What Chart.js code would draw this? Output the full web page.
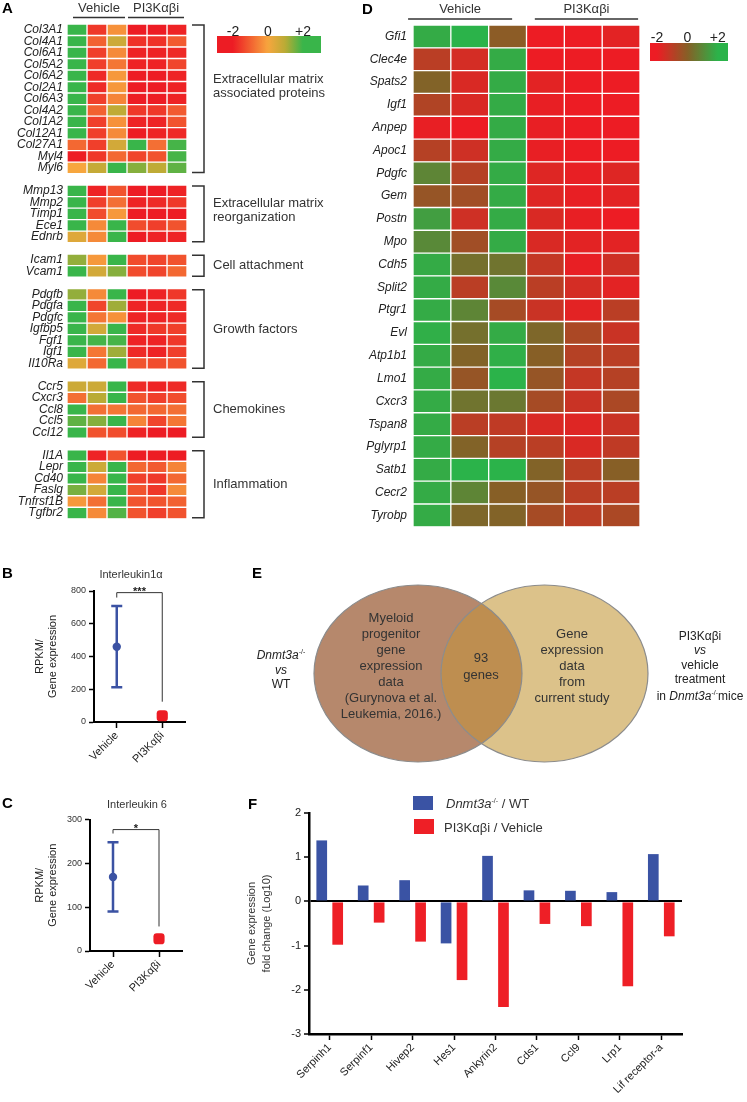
<!DOCTYPE html>
<html lang="en">
<head>
<meta charset="UTF-8">
<title>PI3Kαβi gene expression figure</title>
<script src="https://cdn.jsdelivr.net/npm/chart.js"></script>
<style>
body {margin:0; background:#fff; font-family:'Liberation Sans', Arial, Helvetica, sans-serif; color:#222;}
#page {position:relative; width:747px; height:1102px; overflow:hidden;}
.box {position:absolute;}
.t {position:absolute; white-space:nowrap; line-height:1;}
.c {transform:translateX(-50%); text-align:center;}
.letter {font-weight:bold; font-size:15px; color:#000;}
.blk {position:absolute; white-space:nowrap; text-align:center; transform:translateX(-50%);}
sup {font-size:7px; vertical-align:5px;}
.sw {position:absolute; width:20px; height:15px;}
</style>
</head>
<body>
<div id="page">
  <div class="box" style="left:0;top:0;width:380px;height:530px"><canvas id="heatA"></canvas></div>
  <div class="box" style="left:340px;top:0;width:407px;height:540px"><canvas id="heatD"></canvas></div>
  <div class="box" style="left:0;top:560px;width:220px;height:220px"><canvas id="dotB"></canvas></div>
  <div class="box" style="left:0;top:790px;width:220px;height:220px"><canvas id="dotC"></canvas></div>
  <div class="box" style="left:220px;top:560px;width:527px;height:220px"><canvas id="vennE"></canvas></div>
  <div class="box" style="left:220px;top:780px;width:527px;height:322px"><canvas id="barF"></canvas></div>

  <div class="t letter" style="left:2px;top:0">A</div>
  <div class="t letter" style="left:362px;top:1px">D</div>
  <div class="t letter" style="left:2px;top:565px">B</div>
  <div class="t letter" style="left:2px;top:795px">C</div>
  <div class="t letter" style="left:252px;top:565px">E</div>
  <div class="t letter" style="left:248px;top:796px">F</div>

  <div class="t c" style="left:131px;top:569px;font-size:11px;color:#333">Interleukin1α</div>
  <div class="t c" style="left:137px;top:799px;font-size:11px;color:#333">Interleukin 6</div>

  <div class="blk" style="left:391px;top:610px;font-size:13px;line-height:16px;color:#333">Myeloid<br>progenitor<br>gene<br>expression<br>data<br>(Gurynova et al.<br>Leukemia, 2016.)</div>
  <div class="blk" style="left:481px;top:649px;font-size:13px;line-height:17px;color:#333">93<br>genes</div>
  <div class="blk" style="left:572px;top:626px;font-size:13px;line-height:16px;color:#333">Gene<br>expression<br>data<br>from<br>current study</div>
  <div class="blk" style="left:281px;top:645px;font-size:12px;line-height:14.5px;color:#222"><i>Dnmt3a</i><sup>-/-</sup><br><i>vs</i><br>WT</div>
  <div class="blk" style="left:700px;top:629px;font-size:12px;line-height:14.3px;color:#222">PI3Kαβi<br><i>vs</i><br>vehicle<br>treatment<br>in <i>Dnmt3a</i><sup>-/-</sup>mice</div>

  <div class="sw" style="left:413px;top:796px;height:14px;background:#3a53a4"></div>
  <div class="t" style="left:446px;top:797px;font-size:13px;color:#333"><i>Dnmt3a</i><sup>-/-</sup> / WT</div>
  <div class="sw" style="left:414px;top:819px;background:#ee1f26"></div>
  <div class="t" style="left:444px;top:821px;font-size:13px;color:#333">PI3Kαβi / Vehicle</div>
</div>
<script>
const FONT = "'Liberation Sans', Arial, Helvetica, sans-serif";
Chart.defaults.font.family = FONT;
Chart.defaults.color = '#222';
Chart.defaults.animation = false;

// ---------- data ----------
const conditions = ['Vehicle', 'PI3Kαβi'];
const columns = ['Vehicle 1', 'Vehicle 2', 'Vehicle 3', 'PI3Kαβi 1', 'PI3Kαβi 2', 'PI3Kαβi 3'];

// panel A, z-scores per gene, grouped
const groupNamesA = [
  ['Extracellular matrix', 'associated proteins'],
  ['Extracellular matrix', 'reorganization'],
  ['Cell attachment'],
  ['Growth factors'],
  ['Chemokines'],
  ['Inflammation']
];
const genesA = [
  ['Col3A1','Col4A1','Col6A1','Col5A2','Col6A2','Col2A1','Col6A3','Col4A2','Col1A2','Col12A1','Col27A1','Myl4','Myl6'],
  ['Mmp13','Mmp2','Timp1','Ece1','Ednrb'],
  ['Icam1','Vcam1'],
  ['Pdgfb','Pdgfa','Pdgfc','Igfbp5','Fgf1','Igf1','Il10Ra'],
  ['Ccr5','Cxcr3','Ccl8','Ccl5','Ccl12'],
  ['Il1A','Lepr','Cd40','Faslg','Tnfrsf1B','Tgfbr2']
];
const valuesA = [
  [[2,-1.6,-0.3,-2,-2,-1.9],[2,-1.0,0.7,-1.7,-1.7,-1.1],[2,-1.5,-0.4,-1.9,-1.9,-1.8],[2,-1.5,-0.7,-1.9,-1.9,-1.4],
   [2,-1.8,-0.2,-2,-2,-1.9],[2,-1.8,-0.2,-2,-2,-1.9],[2,-1.5,-0.5,-2,-2,-1.9],[2,-1.0,0.9,-1.6,-1.6,-1.1],
   [2,-1.5,-0.3,-1.9,-1.9,-1.2],[2,-1.5,-0.4,-2,-1.9,-1.8],[-0.9,-1.5,0.6,2,-0.8,1.9],[-2,-1.6,-0.9,-1.4,-1.2,1.9],
   [0,0.8,2,1.4,0.9,1.7]],
  [[2,-1.9,-1.2,-2,-2,-1.9],[2,-1.5,-0.8,-1.9,-1.8,-1.6],[2,-1.3,-0.2,-2,-2,-2],[2,-0.4,2,-1.3,-1.5,-1.2],[0.4,-0.4,2,-2,-1.9,-1.9]],
  [[1.3,-0.2,2,-1.3,-1.4,-1.2],[2,0.6,1.4,-1.3,-1.4,-0.9]],
  [[1.3,-0.4,2,-2,-1.9,-1.6],[2,-1.4,1.2,-1.9,-1.9,-1.8],[2,-0.7,-0.3,-1.9,-1.9,-1.8],[2,0.6,2,-1.8,-1.6,-1.5],
   [2,1.9,1.9,-1.9,-1.9,-1.6],[2,-0.7,1.2,-1.8,-1.9,-1.5],[0.4,-0.9,2,-1.2,-1.3,-1.2]],
  [[0.7,0.7,2,-1.8,-1.9,-1.8],[-0.8,1.0,2,-1.2,-1.5,-1.3],[2,-0.8,-0.7,-0.9,-0.9,-0.8],[1.7,1.4,2,-0.5,-1.4,-0.7],[2,-1.2,-1.3,-1.9,-2,-2]],
  [[2,-1.9,-1.2,-2,-2,-2],[2,0.7,2,-0.9,-1.1,-0.5],[2,-0.5,2,-1.5,-1.6,-0.9],[1.5,0.6,2,-1.2,-1.6,-0.4],[-0.2,-0.8,2,-1.2,-1.2,-1.0],[2,-0.4,1.8,-1.2,-1.5,-1.2]]
];

// panel D
const genesD = ['Gfi1','Clec4e','Spats2','Igf1','Anpep','Apoc1','Pdgfc','Gem','Postn','Mpo','Cdh5','Split2',
  'Ptgr1','Evl','Atp1b1','Lmo1','Cxcr3','Tspan8','Pglyrp1','Satb1','Cecr2','Tyrobp'];
const valuesD = [
  [1.8,2,-0.1,-2,-2,-1.8],[-1.0,-1.5,1.8,-2,-2,-2],[0.1,-1.6,1.8,-1.8,-2,-2],[-0.8,-1.6,1.8,-1.9,-2,-2],
  [-1.9,-2,1.8,-1.9,-2,-2],[-0.9,-1.4,1.8,-1.9,-2,-2],[0.9,-0.9,1.8,-1.7,-1.9,-1.7],[-0.3,-0.5,1.8,-1.7,-1.9,-1.8],
  [1.5,-1.4,1.8,-1.6,-1.9,-2],[1.0,-0.5,1.8,-1.6,-1.8,-1.8],[1.8,0.4,0.5,-1.2,-1.9,-1.4],[1.8,-1.0,1.0,-1.0,-1.5,-1.8],
  [1.8,0.9,-0.6,-1.3,-1.8,-1.0],[1.9,0.4,1.8,0.2,-0.7,-1.3],[1.8,0.1,1.9,0.0,-0.9,-1.0],[1.8,-0.3,2,-0.3,-1.2,-0.9],
  [1.8,0.5,0.6,-0.6,-1.3,-0.7],[1.8,-1.0,-1.1,-1.6,-1.7,-1.3],[1.8,0.1,-0.9,-1.0,-1.6,-1.1],[1.8,2,2,0.1,-1.0,0.0],
  [1.8,0.9,0.0,-0.3,-1.0,-1.0],[1.8,0.2,0.1,-0.6,-1.0,-0.7]
];

// panels B and C (RPKM, mean with error range)
const il1aMean = [460, 38], il1aLow = [212, 38], il1aHigh = [708, 38];
const il6Mean = [169, 28], il6Low = [90, 28], il6High = [248, 28];

// panel F (log10 fold change)
const genesF = ['Serpinh1','Serpinf1','Hivep2','Hes1','Ankyrin2','Cds1','Ccl9','Lrp1','Lif receptor-a'];
const dnmt3aVsWt = [1.38, 0.36, 0.48, -0.95, 1.03, 0.25, 0.24, 0.21, 1.07];
const pi3kVsVehicle = [-0.98, -0.48, -0.91, -1.78, -2.39, -0.51, -0.56, -1.92, -0.79];

// ---------- colours ----------
const stopsA = [[-2,[237,28,36]],[0,[247,166,62]],[1,[185,171,53]],[2,[57,181,74]]];
const stopsD = [[-2,[237,28,36]],[0,[135,95,38]],[2,[43,179,74]]];
function scaleColor(stops, v) {
  v = Math.max(stops[0][0], Math.min(stops[stops.length - 1][0], v));
  for (let i = 0; i < stops.length - 1; i++) {
    const [a, ca] = stops[i], [b, cb] = stops[i + 1];
    if (v <= b) {
      const t = (v - a) / (b - a);
      return 'rgb(' + ca.map((c, k) => Math.round(c + (cb[k] - c) * t)).join(',') + ')';
    }
  }
}

// ---------- heatmaps ----------
const heatDeco = {
  id: 'heatDeco',
  afterDraw(chart, args, o) {
    const {ctx, scales: {x, y}} = chart;
    ctx.save();
    ctx.fillStyle = '#333'; ctx.strokeStyle = '#333';
    ctx.font = '13px ' + FONT; ctx.textAlign = 'center'; ctx.textBaseline = 'alphabetic';
    conditions.forEach((name, i) => {
      const x0 = x.getPixelForValue(o.spans[i][0]), x1 = x.getPixelForValue(o.spans[i][1]);
      ctx.fillText(name, (x0 + x1) / 2, o.headY);
      ctx.lineWidth = 1.5;
      ctx.beginPath(); ctx.moveTo(x0, o.lineY); ctx.lineTo(x1, o.lineY); ctx.stroke();
    });
    // colour key
    const b = o.bar;
    const grd = ctx.createLinearGradient(b.left, 0, b.left + b.width, 0);
    for (let k = 0; k <= 40; k++) {
      const t = k / 40;
      grd.addColorStop(t, scaleColor(o.stops, b.lo + (b.hi - b.lo) * t));
    }
    ctx.fillStyle = grd;
    ctx.fillRect(b.left, b.top, b.width, b.height);
    ctx.fillStyle = '#222';
    ctx.font = '14px ' + FONT;
    [[-2, '-2'], [0, '0'], [2, '+2']].forEach(([v, s]) => {
      ctx.fillText(s, b.left + (v - b.lo) / (b.hi - b.lo) * b.width, b.labelY);
    });
    // group brackets
    if (o.groups) {
      const rowH = y.getPixelForValue(1) - y.getPixelForValue(0);
      ctx.lineWidth = 1.5; ctx.strokeStyle = '#333'; ctx.fillStyle = '#333';
      ctx.font = '13px ' + FONT; ctx.textAlign = 'left'; ctx.textBaseline = 'middle';
      o.groups.forEach((g, gi) => {
        const top = y.getPixelForValue(g[0]) - rowH / 2 + 1;
        const bot = y.getPixelForValue(g[1]) + rowH / 2 - 1;
        const bx = x.right + 17;
        ctx.beginPath();
        ctx.moveTo(x.right + 5, top); ctx.lineTo(bx, top); ctx.lineTo(bx, bot); ctx.lineTo(x.right + 5, bot);
        ctx.stroke();
        const lines = groupNamesA[gi];
        const mid = (top + bot) / 2 + o.labelShift[gi];
        lines.forEach((s, li) => ctx.fillText(s, x.right + 26, mid + (li - (lines.length - 1) / 2) * 14));
      });
    }
    ctx.restore();
  }
};

function heatmap(id, labels, rows, stops, yWidth, pad, deco) {
  return new Chart(document.getElementById(id), {
    type: 'bar',
    data: {
      labels: labels,
      datasets: columns.map((col, j) => ({
        label: col,
        data: rows.map(r => r ? 1 : null),
        backgroundColor: c => rows[c.dataIndex] ? scaleColor(stops, rows[c.dataIndex][j]) : 'rgba(0,0,0,0)',
        borderColor: '#fff',
        borderWidth: 1,
        borderSkipped: false,
        barPercentage: 1,
        categoryPercentage: 1
      }))
    },
    options: {
      indexAxis: 'y',
      responsive: true, maintainAspectRatio: false, animation: false,
      layout: {padding: pad},
      plugins: {legend: {display: false}, tooltip: {enabled: false}, heatDeco: deco},
      scales: {
        x: {stacked: true, min: 0, max: columns.length, display: false},
        y: {
          stacked: true,
          grid: {display: false, drawTicks: false},
          border: {display: false},
          ticks: {autoSkip: false, padding: deco.tickPad, color: '#222', font: {size: 12, style: 'italic'}},
          afterFit: s => { s.width = yWidth; }
        }
      }
    },
    plugins: [heatDeco]
  });
}

const labelsA = [], rowsA = [], groupRowsA = [];
genesA.forEach((g, gi) => {
  if (gi) { labelsA.push(''); rowsA.push(null); }
  const from = labelsA.length;
  g.forEach((name, k) => { labelsA.push(name); rowsA.push(valuesA[gi][k]); });
  groupRowsA.push([from, labelsA.length - 1]);
});

heatmap('heatA', labelsA, rowsA, stopsA, 67, {top: 24, right: 193, bottom: 5, left: 0}, {
  spans: [[0.3, 2.9], [3.05, 5.85]], headY: 12, lineY: 17.5, tickPad: 4,
  stops: stopsA,
  bar: {left: 217, top: 36, width: 104, height: 17, lo: -2.915, hi: 3.03, labelY: 35.5},
  groups: groupRowsA, labelShift: [-12, -3, 0, 0, 0, 0]
});

heatmap('heatD', genesD, valuesD, stopsD, 73, {top: 25, right: 107, bottom: 10, left: 0}, {
  spans: [[-0.13, 2.62], [3.22, 5.95]], headY: 13, lineY: 19, tickPad: 6,
  stops: stopsD,
  bar: {left: 310, top: 43, width: 78, height: 18, lo: -2.46, hi: 2.67, labelY: 42}
});

// ---------- B / C dot plots ----------
const dotDeco = {
  id: 'dotDeco',
  beforeDatasetsDraw(chart, args, o) {
    const {ctx, scales: {x, y}} = chart;
    ctx.save();
    ctx.strokeStyle = '#3b52a3'; ctx.lineWidth = 2.5;
    o.low.forEach((lo, i) => {
      if (lo === o.high[i]) return;
      const px = x.getPixelForValue(i), y0 = y.getPixelForValue(lo), y1 = y.getPixelForValue(o.high[i]);
      ctx.beginPath();
      ctx.moveTo(px, y0); ctx.lineTo(px, y1);
      ctx.moveTo(px - 5.5, y0); ctx.lineTo(px + 5.5, y0);
      ctx.moveTo(px - 5.5, y1); ctx.lineTo(px + 5.5, y1);
      ctx.stroke();
    });
    ctx.restore();
  },
  afterDraw(chart, args, o) {
    const {ctx, scales: {x, y}} = chart;
    const s = o.sig;
    const x0 = x.getPixelForValue(0), x1 = x.getPixelForValue(1);
    const yt = y.getPixelForValue(s.top);
    ctx.save();
    ctx.strokeStyle = '#333'; ctx.lineWidth = 1;
    ctx.beginPath();
    ctx.moveTo(x0, y.getPixelForValue(s.left)); ctx.lineTo(x0, yt); ctx.lineTo(x1, yt);
    ctx.lineTo(x1, y.getPixelForValue(s.right));
    ctx.stroke();
    ctx.fillStyle = '#222'; ctx.font = 'bold 11px ' + FONT; ctx.textAlign = 'center';
    ctx.fillText(s.text, (x0 + x1) / 2, yt + 2);
    ctx.restore();
  }
};

function dotPlot(id, means, low, high, yMax, yStep, sig, pad, yWidth, xHeight) {
  return new Chart(document.getElementById(id), {
    type: 'line',
    data: {
      labels: conditions,
      datasets: [{
        data: means,
        showLine: false,
        pointStyle: ['circle', 'rectRounded'],
        pointRadius: [4.2, 6.5],
        pointBackgroundColor: ['#3b52a3', '#ed1c24'],
        pointBorderWidth: 0
      }]
    },
    options: {
      responsive: true, maintainAspectRatio: false, animation: false,
      layout: {padding: pad},
      plugins: {legend: {display: false}, tooltip: {enabled: false}, dotDeco: {low: low, high: high, sig: sig}},
      scales: {
        x: {
          offset: true,
          grid: {offset: false, drawOnChartArea: false, tickLength: 6, tickColor: '#000', tickWidth: 1.5},
          border: {color: '#000', width: 2},
          ticks: {maxRotation: 45, minRotation: 45, padding: 1, color: '#222', font: {size: 11}},
          afterFit: s => { s.height = xHeight; }
        },
        y: {
          min: 0, max: yMax,
          ticks: {stepSize: yStep, padding: 3, color: '#333', font: {size: 9}},
          grid: {drawOnChartArea: false, tickLength: 5, tickColor: '#000', tickWidth: 1.5},
          border: {color: '#000', width: 2},
          title: {display: true, text: ['RPKM/', 'Gene expression'], color: '#222', font: {size: 11}, padding: 0},
          afterFit: s => { s.width = yWidth; }
        }
      }
    },
    plugins: [dotDeco]
  });
}

dotPlot('dotB', il1aMean, il1aLow, il1aHigh, 800, 200, {text: '***', top: 790, left: 760, right: 124},
  {top: 31, right: 35, bottom: 0, left: 33}, 61, 58);
dotPlot('dotC', il6Mean, il6Low, il6High, 300, 100, {text: '*', top: 277, left: 268, right: 56},
  {top: 29.5, right: 38, bottom: 0, left: 33}, 57, 59);

// ---------- E venn ----------
const vennSets = [
  {cx: 198, cy: 113.5, rx: 104, ry: 88.5, color: '#b6886c'},
  {cx: 324.5, cy: 113.5, rx: 103.5, ry: 88.5, color: '#dcc28a'}
];
const vennDeco = {
  id: 'vennDeco',
  beforeDraw(chart) {
    const ctx = chart.ctx;
    const path = e => { ctx.beginPath(); ctx.ellipse(e.cx, e.cy, e.rx, e.ry, 0, 0, Math.PI * 2); };
    ctx.save();
    vennSets.forEach(e => { path(e); ctx.fillStyle = e.color; ctx.fill(); });
    ctx.save();
    path(vennSets[0]); ctx.clip();
    path(vennSets[1]); ctx.fillStyle = '#be8e50'; ctx.fill();
    ctx.restore();
    ctx.strokeStyle = '#8c8c8c'; ctx.lineWidth = 1.2;
    vennSets.forEach(e => { path(e); ctx.stroke(); });
    ctx.restore();
  }
};
new Chart(document.getElementById('vennE'), {
  type: 'scatter',
  data: {datasets: []},
  options: {
    responsive: true, maintainAspectRatio: false, animation: false,
    plugins: {legend: {display: false}, tooltip: {enabled: false}},
    scales: {x: {display: false}, y: {display: false}}
  },
  plugins: [vennDeco]
});

// ---------- F bars ----------
new Chart(document.getElementById('barF'), {
  type: 'bar',
  data: {
    labels: genesF,
    datasets: [
      {label: 'Dnmt3a-/- / WT', data: dnmt3aVsWt, backgroundColor: '#3a53a4'},
      {label: 'PI3Kαβi / Vehicle', data: pi3kVsVehicle, backgroundColor: '#ee1f26'}
    ]
  },
  options: {
    responsive: true, maintainAspectRatio: false, animation: false,
    layout: {padding: {top: 33, right: 65, bottom: 0, left: 25}},
    datasets: {bar: {categoryPercentage: 0.77, barPercentage: 0.67}},
    plugins: {legend: {display: false}, tooltip: {enabled: false}},
    scales: {
      x: {
        grid: {offset: false, drawOnChartArea: false, tickLength: 6, tickColor: '#000', tickWidth: 1.5},
        border: {color: '#000', width: 2.5},
        ticks: {autoSkip: false, maxRotation: 45, minRotation: 45, padding: 1, color: '#222', font: {size: 11}},
        afterFit: s => { s.height = 68; }
      },
      y: {
        min: -3, max: 2,
        ticks: {stepSize: 1, padding: 3, color: '#222', font: {size: 11}},
        grid: {
          color: c => c.tick && c.tick.value === 0 ? '#000' : 'rgba(0,0,0,0)',
          lineWidth: 2, tickLength: 5, tickColor: '#000', tickWidth: 1.5
        },
        border: {color: '#000', width: 2.5},
        title: {display: true, text: ['Gene expression', 'fold change (Log10)'], color: '#333', font: {size: 11, lineHeight: 1.35}, padding: 0},
        afterFit: s => { s.width = 64; }
      }
    }
  }
});
</script>
</body>
</html>
